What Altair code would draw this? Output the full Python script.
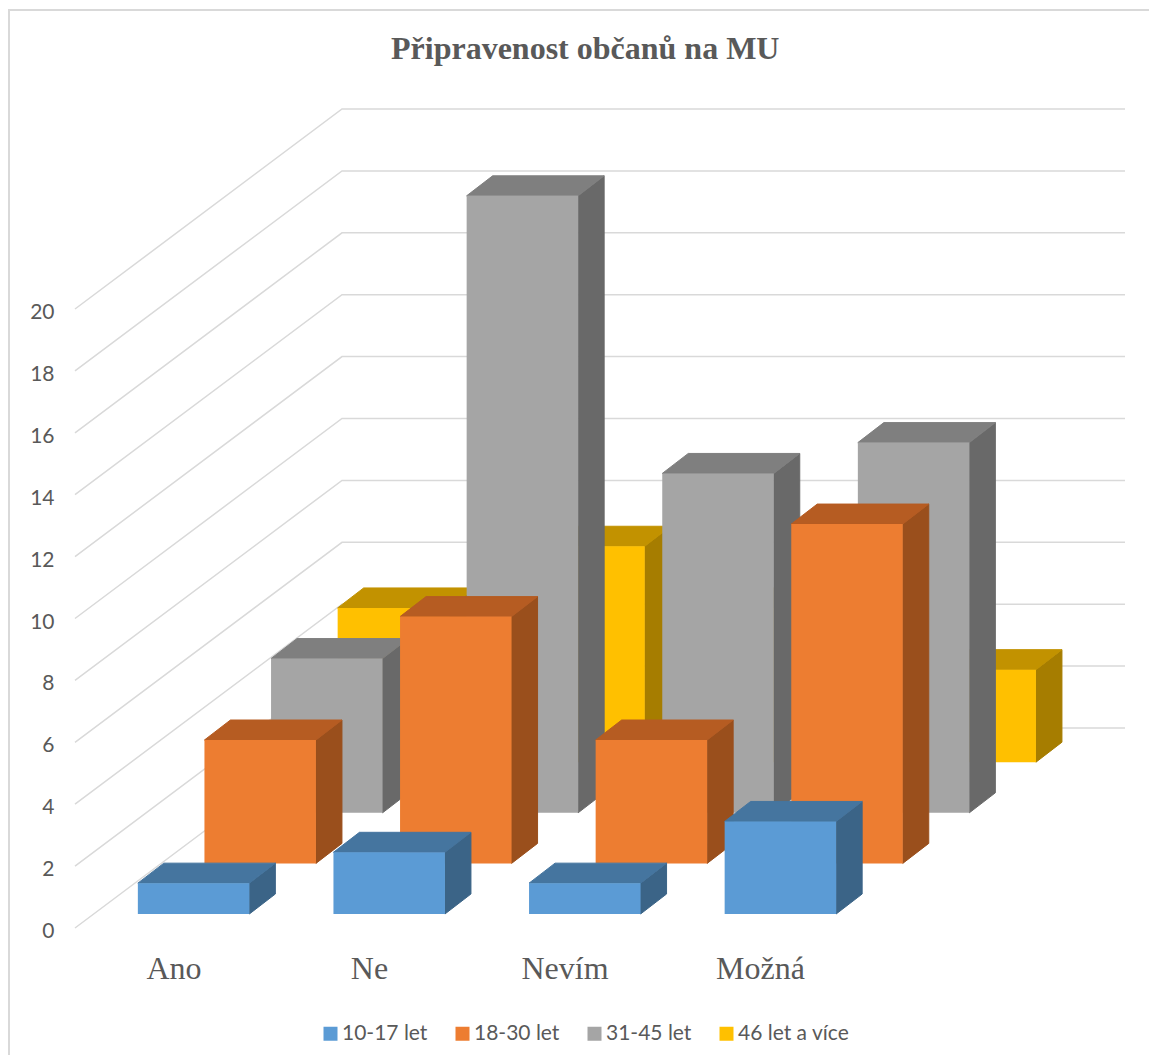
import altair as alt
import pandas as pd

# --- chart values ---
categories = ["Ano", "Ne", "Nevím", "Možná"]
series = ["10-17 let", "18-30 let", "31-45 let", "46 let a více"]
v_10_17 = [1, 2, 1, 3]
v_18_30 = [4, 8, 4, 11]
v_31_45 = [5, 20, 11, 12]
v_46 = [5, 7, 5, 3]
ticks = [0, 2, 4, 6, 8, 10, 12, 14, 16, 18, 20]
front = ["#5B9BD5", "#ED7D31", "#A5A5A5", "#FFC000"]
top_c = ["#45759F", "#B65C22", "#7F7F7F", "#C29200"]
side_c = ["#3B6487", "#9A4F1C", "#696969", "#A67D00"]
title_text = "Připravenost občanů na MU"

# --- oblique projection parameters ---
X0, Y0 = 75.0, 928.0
UNIT = 30.95              # wall gridlines
BAR_UNIT = 30.85          # bar heights
DX, DY = 66.75, 50.0      # screen shift per series slot for the walls
BAR_STEP_Y = 50.6         # screen shift per series slot for the bars
BAR_STEP_X = 66.6
SLOT = 195.6
BAR_W = 111.5
GAP = 41.85
BAR_DX, BAR_DY = 26.0, 20.0
IN_DX, IN_DY = 21.0, 14.0
WALL_W = 783.0

series_vals = [v_10_17, v_18_30, v_31_45, v_46]

fronts, tops, sides = [], [], []
for s, vals in enumerate(series_vals):
    for c, v in enumerate(vals):
        xl = X0 + c * SLOT + GAP + IN_DX + s * BAR_STEP_X
        xr = xl + BAR_W
        yb = Y0 - IN_DY - s * BAR_STEP_Y
        yt = yb - v * BAR_UNIT
        key = f"{s}-{c}"
        fronts.append(dict(s=s, series=series[s], cat=categories[c], x=xl, x2=xr, y=yt, y2=yb, value=v))
        tops.append(dict(s=s, key=key, y=yt, x=xl, x2=xr))
        tops.append(dict(s=s, key=key, y=yt - BAR_DY, x=xl + BAR_DX, x2=xr + BAR_DX))
        sides.append(dict(s=s, key=key, x=xr, y=yt, y2=yb))
        sides.append(dict(s=s, key=key, x=xr + BAR_DX, y=yt - BAR_DY, y2=yb - BAR_DY))

grid = []
for t in ticks:
    yf = Y0 - t * UNIT
    grid += [dict(t=t, o=0, x=X0, y=yf),
             dict(t=t, o=1, x=X0 + 4 * DX, y=yf - 4 * DY),
             dict(t=t, o=2, x=X0 + 4 * DX + WALL_W, y=yf - 4 * DY)]

fronts, tops, sides, grid = map(pd.DataFrame, (fronts, tops, sides, grid))

W, H = 1141, 1047
xs = alt.Scale(domain=[8, 8 + W], nice=False, zero=False)
ys = alt.Scale(domain=[8 + H, 8], nice=False, zero=False)
X = lambda f="x": alt.X(f"{f}:Q", scale=xs, axis=None)
Y = lambda f="y": alt.Y(f"{f}:Q", scale=ys, axis=None)

layers = []

# chart frame (left and top edges)
frame = pd.DataFrame([dict(o=0, x=9, y=8 + H), dict(o=1, x=9, y=10), dict(o=2, x=8 + W, y=10)])
layers.append(alt.Chart(frame).mark_line(color="#D9D9D9", strokeWidth=2).encode(X(), Y(), order="o:Q"))

layers.append(alt.Chart(grid).mark_line(color="#D9D9D9", strokeWidth=1.5).encode(
    X(), Y(), detail="t:N", order="o:Q"))

color = alt.Color("series:N",
                  scale=alt.Scale(domain=series, range=front),
                  legend=alt.Legend(orient="none", legendX=312, legendY=1015, direction="horizontal",
                                    columns=4, title=None, symbolType="square", symbolSize=196,
                                    symbolStrokeWidth=0, labelFont="Lato", labelFontSize=21,
                                    labelColor="#595959", columnPadding=24, labelOffset=1,
                                    labelLimit=200))

for s in [3, 2, 1, 0]:
    layers.append(alt.Chart(sides[sides.s == s]).mark_area(
        orient="vertical", color=side_c[s], stroke=side_c[s], strokeWidth=1).encode(
        X(), Y(), alt.Y2("y2:Q"), detail="key:N"))
    layers.append(alt.Chart(tops[tops.s == s]).mark_area(
        orient="horizontal", color=top_c[s], stroke=top_c[s], strokeWidth=1).encode(
        Y(), X(), alt.X2("x2:Q"), detail="key:N"))
    layers.append(alt.Chart(fronts[fronts.s == s]).mark_rect(strokeWidth=0).encode(
        X(), alt.X2("x2:Q"), Y(), alt.Y2("y2:Q"), color))

tick_df = pd.DataFrame(dict(label=[str(t) for t in ticks],
                            x=[X0 - 20.5] * len(ticks),
                            y=[Y0 - t * UNIT + 4 for t in ticks]))
layers.append(alt.Chart(tick_df).mark_text(
    align="right", baseline="middle", font="Lato", fontSize=21, color="#595959").encode(
    X(), Y(), text="label:N"))

cat_df = pd.DataFrame(dict(label=categories,
                           x=[X0 + 99 + i * 195.5 for i in range(4)],
                           y=[979] * 4))
layers.append(alt.Chart(cat_df).mark_text(
    align="center", baseline="alphabetic", font="Liberation Serif", fontSize=32, color="#595959").encode(
    X(), Y(), text="label:N"))

chart = alt.layer(*layers).properties(
    width=W, height=H,
    padding=0,
    autosize=alt.AutoSizeParams(type="none"),
    title=alt.TitleParams(title_text, font="Liberation Serif", fontSize=32, fontWeight="bold",
                          color="#595959", anchor="start", frame="group", dx=383, offset=-85,
                          baseline="alphabetic"),
).configure_view(stroke=None)

chart.save("out.html", embed_options={"renderer": "svg", "actions": False})
